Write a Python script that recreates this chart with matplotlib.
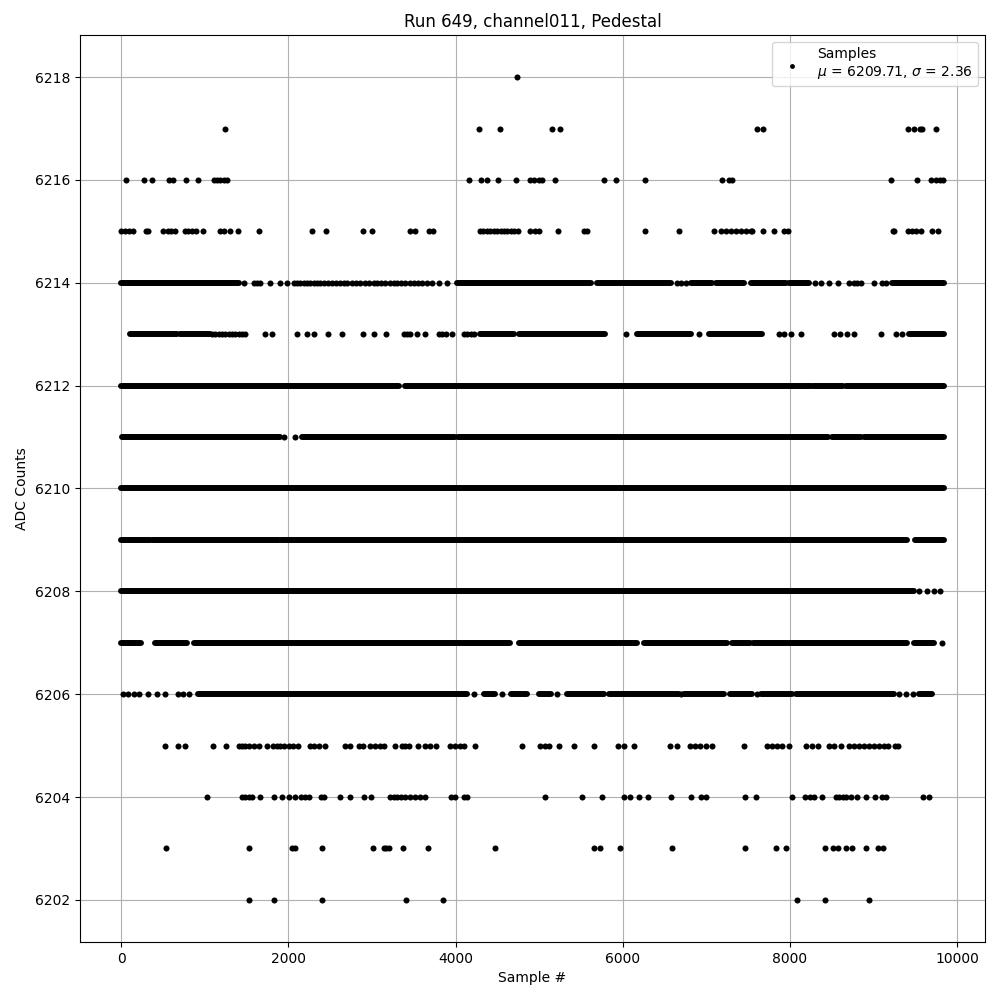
import matplotlib
matplotlib.use("Agg")
import matplotlib.pyplot as plt

# ADC levels that only have a few scattered samples (sample index per hit)
pts_6218 = [4730]
pts_6217 = [1237, 4277, 4529, 5151, 5247, 7609, 7677, 9412, 9484, 9555, 9575, 9747]
pts_6216 = [64, 279, 375, 570, 626, 778, 922, 1105, 1145, 1185, 1225, 1265, 4157, 4301,
            4373, 4505, 4720, 4896, 4940, 5000, 5036, 5187, 5773, 5917, 6264, 7186, 7274,
            7302, 9209, 9520, 9684, 9740, 9790, 9827]
pts_6215 = [0, 50, 100, 147, 300, 327, 506, 560, 600, 646, 758, 800, 850, 900, 985, 1185,
            1230, 1305, 1397, 1644, 2278, 2446, 2889, 3000, 3460, 3520, 3679, 3727, 4290,
            4330, 4370, 4410, 4460, 4500, 4540, 4580, 4620, 4660, 4700, 4750, 4896, 4950,
            4995, 5222, 5534, 5574, 6264, 6671, 7086, 7170, 7230, 7290, 7350, 7410, 7470,
            7530, 7550, 7681, 7808, 7928, 7980, 9229, 9244, 9412, 9460, 9510, 9563, 9696,
            9771]
pts_6214 = [1464, 1584, 1624, 1664, 1775, 1903, 1983, 2063, 2103, 2143, 2183, 2223, 2262,
            2302, 2342, 2382, 2422, 2470, 2520, 2570, 2620, 2660, 2700, 2761, 2810, 2860,
            2920, 2970, 3020, 3060, 3110, 3160, 3210, 3260, 3300, 3350, 3400, 3450, 3500,
            3550, 3600, 3659, 3719, 3798, 3898, 6651, 6700, 6751, 8295, 8367, 8467, 8575,
            8706, 8760, 8800, 8846, 9005, 9105, 9145]
pts_6213 = [1085, 1125, 1165, 1205, 1245, 1285, 1325, 1365, 1405, 1445, 1484, 1724, 1804,
            2103, 2223, 2302, 2474, 2641, 2889, 3028, 3164, 3379, 3420, 3460, 3540, 3639,
            3798, 3840, 3880, 3958, 4098, 4140, 4180, 4217, 6041, 6911, 7868, 7930, 8008,
            8131, 8527, 8600, 8680, 8766, 9085, 9265, 9345]
pts_6211 = [1943, 2075]
pts_6208 = [9544, 9644, 9723, 9792]
pts_6207 = [9823]
pts_6206 = [20, 88, 148, 219, 327, 427, 530, 686, 740, 810, 4217, 4557, 5215, 6700, 7609,
            9305, 9385, 9465]
pts_6205 = [530, 686, 758, 1101, 1257, 1404, 1440, 1480, 1524, 1584, 1644, 1744, 1816,
            1864, 1900, 1943, 2003, 2055, 2110, 2262, 2310, 2370, 2442, 2673, 2733, 2841,
            2893, 2980, 3040, 3100, 3148, 3280, 3360, 3400, 3440, 3548, 3639, 3691, 3763,
            3930, 3998, 4050, 4098, 4229, 4796, 5015, 5075, 5115, 5235, 5414, 5654, 5941,
            6013, 6132, 6563, 6651, 6803, 6863, 6923, 6990, 7070, 7449, 7720, 7780, 7840,
            7900, 7990, 8188, 8260, 8335, 8467, 8527, 8607, 8706, 8766, 8826, 8886, 8946,
            9006, 9066, 9126, 9173, 9253, 9293]
pts_6204 = [1029, 1444, 1484, 1524, 1570, 1664, 1823, 1927, 2003, 2083, 2150, 2200, 2242,
            2390, 2422, 2613, 2733, 2901, 2985, 3220, 3260, 3300, 3350, 3400, 3460, 3520,
            3580, 3639, 3946, 3998, 4106, 4137, 5067, 5510, 5749, 6013, 6085, 6192, 6300,
            6575, 6815, 6931, 6991, 7461, 7597, 8028, 8180, 8240, 8288, 8387, 8547, 8590,
            8630, 8667, 8726, 8806, 8906, 9017, 9105, 9145, 9596, 9664]
pts_6203 = [542, 1524, 2043, 2083, 2398, 3008, 3140, 3172, 3200, 3368, 3671, 4477, 5654,
            5725, 5965, 6587, 7461, 7832, 7952, 8419, 8519, 8575, 8670, 8742, 8914, 9049,
            9117]
pts_6202 = [1524, 1823, 2398, 3403, 3846, 8083, 8419, 8946]

# sample ranges where a level is hit so often the dots merge into a band
runs_6214 = [(0, 1404), (4018, 5614), (5694, 6572), (6811, 7070), (7118, 7449),
             (7529, 7948), (7988, 8227), (9225, 9840)]
runs_6213 = [(108, 667), (706, 1065), (4297, 4700), (4756, 5793), (6173, 6811),
             (7030, 7670), (9425, 9840)]
runs_6212 = [(0, 3319), (3400, 8247), (8280, 8634), (8675, 9840)]
runs_6211 = [(16, 1903), (2163, 3998), (4030, 8459), (8507, 8846), (8886, 9840)]
runs_6210 = [(0, 9840)]
runs_6209 = [(0, 347), (367, 1891), (1915, 9404), (9496, 9840)]
runs_6208 = [(0, 9484)]
runs_6207 = [(0, 239), (407, 793), (877, 4656), (4756, 6173), (6252, 7250), (7310, 7520),
             (7560, 9404), (9477, 9723)]
runs_6206 = [(918, 4137), (4337, 4477), (4665, 4856), (4996, 5136), (5335, 5773),
             (5833, 6671), (6730, 7210), (7282, 7550), (7649, 8028), (8068, 9245),
             (9544, 9704)]

mean_adc = 6209.71
std_adc = 2.36

points = [(6218, pts_6218), (6217, pts_6217), (6216, pts_6216), (6215, pts_6215),
          (6214, pts_6214), (6213, pts_6213), (6211, pts_6211), (6208, pts_6208),
          (6207, pts_6207), (6206, pts_6206), (6205, pts_6205), (6204, pts_6204),
          (6203, pts_6203), (6202, pts_6202)]
runs = [(6214, runs_6214), (6213, runs_6213), (6212, runs_6212), (6211, runs_6211),
        (6210, runs_6210), (6209, runs_6209), (6208, runs_6208), (6207, runs_6207),
        (6206, runs_6206)]

xs, ys = [], []
for level, samples in points:
    xs += samples
    ys += [level] * len(samples)

fig = plt.figure(figsize=(10, 10), dpi=100)
ax = fig.add_axes([0.08, 0.058, 0.905, 0.907])
ax.set_axisbelow(True)

ax.scatter(xs, ys, s=19, color='black', linewidths=0, zorder=2,
           label=f"Samples\n$\\mu$ = {mean_adc:.2f}, $\\sigma$ = {std_adc:.2f}")
for level, segs in runs:
    ax.hlines([level] * len(segs), [a for a, b in segs], [b for a, b in segs],
              colors='black', linewidth=4.3, capstyle='round', zorder=2)

ax.set_xlim(-492, 10332)
ax.set_ylim(6201.18, 6218.82)
ax.set_yticks(range(6202, 6219, 2))
ax.grid(True)
ax.set_title('Run 649, channel011, Pedestal')
ax.set_xlabel('Sample #')
ax.set_ylabel('ADC Counts')
ax.legend(loc='upper right', markerscale=0.8)

fig.savefig('out.png')
